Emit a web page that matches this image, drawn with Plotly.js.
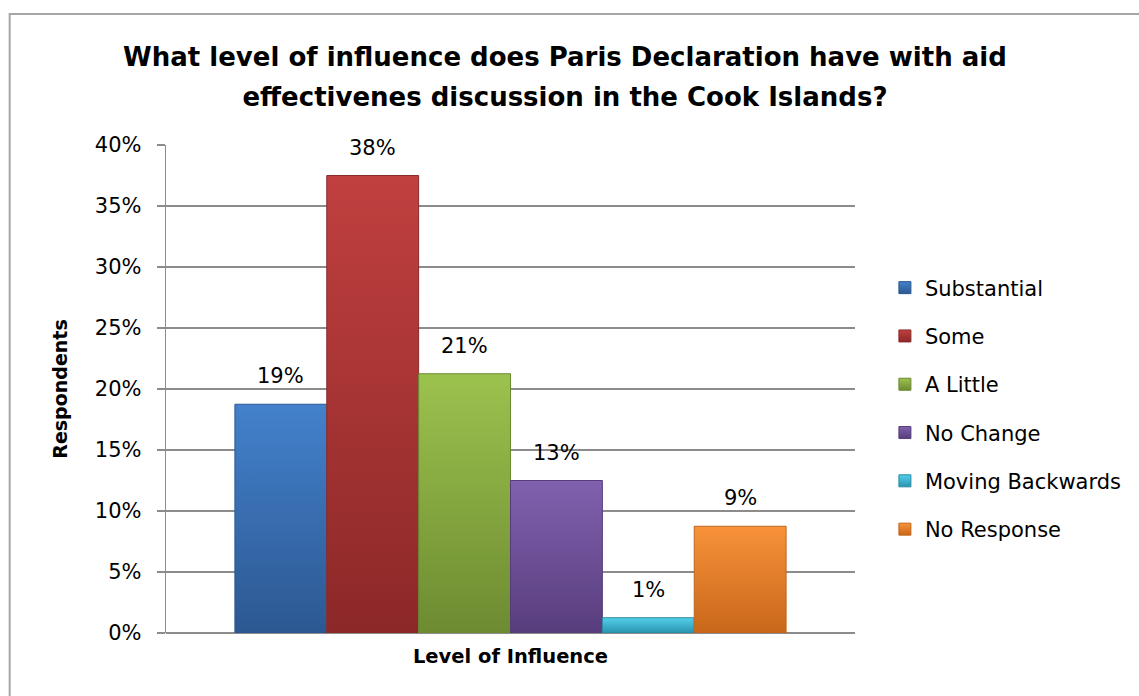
<!DOCTYPE html>
<html>
<head>
<meta charset="utf-8">
<script src="https://cdn.plot.ly/plotly-3.0.1.min.js"></script>
<style>
  html, body { margin: 0; padding: 0; background: #fff; }
  #chart { width: 1139px; height: 696px; }
</style>
</head>
<body>
<div id="chart"></div>
<script>
// Survey responses: share of respondents per level of influence
const category = 'Level of Influence';
const seriesNames = ['Substantial', 'Some', 'A Little', 'No Change', 'Moving Backwards', 'No Response'];
const seriesValues = [0.1875, 0.375, 0.2125, 0.125, 0.0125, 0.0875];
const seriesColors = ['#3a70b4', '#b3363a', '#8db345', '#7454a0', '#3fbcd9', '#f08426'];
const seriesShades = [
  ['#4381cc', '#2c5891'],
  ['#c0403f', '#8c2828'],
  ['#9cc24e', '#6d8b31'],
  ['#8061ae', '#583d7d'],
  ['#52d0ec', '#2a93ad'],
  ['#f7923a', '#c9671a']
];
const edgeColors = ['#2b578f', '#8a2a2a', '#6b8a30', '#563c7a', '#2a8aa3', '#c0651c'];
const yTicks = [0, 0.05, 0.10, 0.15, 0.20, 0.25, 0.30, 0.35, 0.40];

const FONT = '"DejaVu Sans", "Open Sans", sans-serif';
const BARGAP = 0.2;

const traces = seriesNames.map((name, i) => ({
  type: 'bar',
  name: name,
  x: [category],
  y: [seriesValues[i]],
  legendgroup: 'g' + i,
  marker: { color: seriesColors[i], line: { color: edgeColors[i], width: 1 } },
  hoverinfo: 'name+y'
}));

// Value labels sit a little above each bar, centred on its slot in the group
const fmtPct = v => Math.round(v * 100) + '%';
const slot = (1 - BARGAP) / seriesNames.length;
const valueLabels = seriesValues.map((v, i) => ({
  xref: 'x', yref: 'y',
  x: -(1 - BARGAP) / 2 + slot * (i + 0.5),
  y: v,
  text: fmtPct(v),
  showarrow: false,
  yanchor: 'bottom',
  yshift: 14,
  font: { family: FONT, size: 21, color: '#000' }
}));

const layout = {
  width: 1139,
  height: 696,
  paper_bgcolor: '#fff',
  plot_bgcolor: '#fff',
  margin: { l: 166, r: 281, t: 145, b: 63 },
  font: { family: FONT, color: '#000' },
  title: {
    text: '<b><span style="font-size:26px">What level of influence does Paris Declaration have with aid<br>effectivenes discussion in the Cook Islands?</span></b>',
    font: { family: FONT, size: 31, color: '#000' },
    xref: 'container', x: 0.496, xanchor: 'center',
    yref: 'container', y: 0.905, yanchor: 'middle'
  },
  barmode: 'group',
  bargap: BARGAP,
  bargroupgap: 0,
  showlegend: true,
  legend: {
    x: 1.0434, xanchor: 'left',
    y: 0.749, yanchor: 'top',
    font: { family: FONT, size: 21, color: '#000' },
    tracegroupgap: 18,
    itemwidth: 30,
    bgcolor: 'rgba(0,0,0,0)'
  },
  xaxis: {
    type: 'category',
    showticklabels: false,
    showgrid: false,
    zeroline: false,
    showline: false,
    ticks: '',
    title: { text: '<b>' + category + '</b>', font: { family: FONT, size: 19.5, color: '#000' }, standoff: 16 }
  },
  yaxis: {
    range: [0, 0.4],
    tickvals: yTicks,
    tickformat: '.0%',
    tickfont: { family: FONT, size: 21, color: '#000' },
    ticklabelstandoff: 11,
    showgrid: true,
    gridcolor: '#8c8c8c',
    gridwidth: 1.3,
    zeroline: true,
    zerolinecolor: '#8c8c8c',
    zerolinewidth: 1.3,
    showline: true,
    linecolor: '#8c8c8c',
    linewidth: 1.3,
    ticks: 'outside',
    ticklen: 8,
    tickcolor: '#8c8c8c',
    tickwidth: 1.3,
    title: { text: '<b>Respondents</b>', font: { family: FONT, size: 19, color: '#000' }, standoff: 22 }
  },
  annotations: valueLabels,
  shapes: [{
    type: 'rect', xref: 'paper', yref: 'paper',
    x0: -0.2269, x1: 1.5, y0: -0.4, y1: 1.2684,
    line: { color: '#a6a6a6', width: 2 },
    fillcolor: 'rgba(0,0,0,0)',
    layer: 'below'
  }]
};

// Vertical shading on bars and legend swatches
function applyShading(gd) {
  const svg = gd.querySelector('svg.main-svg');
  const ns = 'http://www.w3.org/2000/svg';
  let defs = svg.querySelector('defs');
  if (!defs) { defs = document.createElementNS(ns, 'defs'); svg.insertBefore(defs, svg.firstChild); }
  seriesShades.forEach((c, i) => {
    const g = document.createElementNS(ns, 'linearGradient');
    g.setAttribute('id', 'shade' + i);
    g.setAttribute('x1', '0'); g.setAttribute('y1', '0');
    g.setAttribute('x2', '0'); g.setAttribute('y2', '1');
    [[0, c[0]], [1, c[1]]].forEach(([o, col]) => {
      const s = document.createElementNS(ns, 'stop');
      s.setAttribute('offset', o);
      s.setAttribute('stop-color', col);
      g.appendChild(s);
    });
    defs.appendChild(g);
  });
  gd.querySelectorAll('.barlayer .trace').forEach((t, i) => {
    t.querySelectorAll('path').forEach(p => { p.style.fill = 'url(#shade' + i + ')'; });
  });
  gd.querySelectorAll('.legend .traces').forEach((t, i) => {
    t.querySelectorAll('.legendpoints path').forEach(p => { p.style.fill = 'url(#shade' + i + ')'; });
  });
}

Plotly.newPlot('chart', traces, layout, { displayModeBar: false, staticPlot: true })
  .then(applyShading);
</script>
</body>
</html>
